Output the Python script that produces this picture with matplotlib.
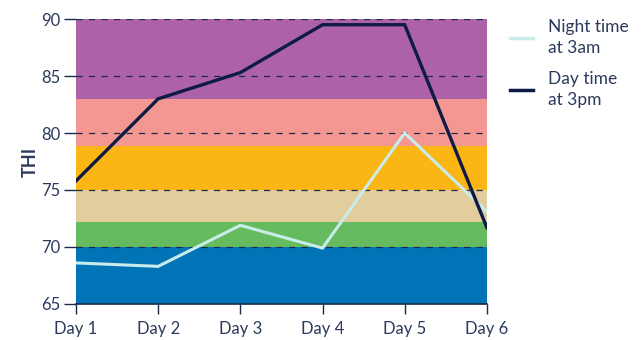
import matplotlib
matplotlib.use("Agg")
import matplotlib.pyplot as plt
from matplotlib.lines import Line2D

days = ["Day 1", "Day 2", "Day 3", "Day 4", "Day 5", "Day 6"]
night_3am = [68.6, 68.3, 71.9, 69.9, 80.0, 73.1]
day_3pm = [75.8, 83.0, 85.3, 89.5, 89.5, 71.7]

# THI stress bands (lower, upper, colour)
band_edges = [65, 70, 72.2, 75, 78.9, 83, 90]
band_colors = ["#0173b7", "#66bb5f", "#e2cd9c", "#fbb616", "#f49792", "#ad62a7"]

ink = "#2b3a5c"
plt.rcParams["font.family"] = ["Lato", "DejaVu Sans"]

fig = plt.figure(figsize=(6.44, 3.40), dpi=100)
ax = fig.add_axes([0.118, 0.106, 0.638, 0.838])

x = list(range(len(days)))
for lo, hi, c in zip(band_edges[:-1], band_edges[1:], band_colors):
    ax.axhspan(lo, hi, color=c, lw=0, zorder=0)

for yv in [70, 75, 80, 85, 90]:
    ax.axhline(yv, color="#1b2a4a", lw=0.9, ls=(0, (5, 5)), zorder=1)

ax.plot(x, night_3am, color="#c8ecea", lw=2.2, zorder=3, solid_joinstyle="miter")
ax.plot(x, day_3pm, color="#0d1b45", lw=2.4, zorder=4, solid_joinstyle="miter")

ax.set_xlim(0, 5)
ax.set_ylim(65, 90)
ax.set_xticks(x)
ax.set_xticklabels(days)
ax.set_yticks([65, 70, 75, 80, 85, 90])
ax.set_ylabel("THI", color=ink, fontsize=13, fontweight="bold", labelpad=2)

for s in ["top", "right", "left"]:
    ax.spines[s].set_visible(False)
ax.spines["bottom"].set_color("#1b2a4a")
ax.spines["bottom"].set_linewidth(1.2)
ax.tick_params(axis="x", colors="#1b2a4a", labelcolor=ink, labelsize=12,
               length=7, width=1, pad=5)
ax.tick_params(axis="y", colors="#1b2a4a", labelcolor=ink, labelsize=12,
               length=9, width=1, pad=2)

handles = [Line2D([], [], color="#c8ecea", lw=2.5),
           Line2D([], [], color="#0d1b45", lw=2.5)]
leg = fig.legend(handles, ["Night time\nat 3am", "Day time\nat 3pm"],
                 loc="upper left", bbox_to_anchor=(0.768, 0.99), frameon=False,
                 fontsize=12.5, labelcolor=ink, handlelength=1.3,
                 handletextpad=0.9, labelspacing=0.9)
for t in leg.get_texts():
    t.set_linespacing(1.35)

fig.savefig("out.png", dpi=100)
